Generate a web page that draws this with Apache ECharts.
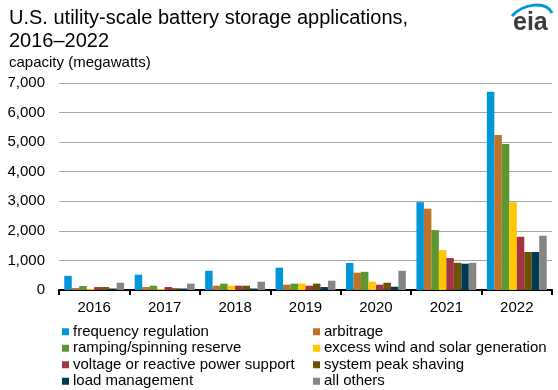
<!DOCTYPE html>
<html>
<head>
<meta charset="utf-8">
<script src="https://cdn.jsdelivr.net/npm/echarts@6/dist/echarts.min.js"></script>
<style>
html,body{margin:0;padding:0;background:#fff;}
#chart{width:558px;height:390px;}
</style>
</head>
<body>
<div id="chart"></div>
<script>
const years = ['2016','2017','2018','2019','2020','2021','2022'];
const seriesNames = ['frequency regulation','arbitrage','ramping/spinning reserve','excess wind and solar generation','voltage or reactive power support','system peak shaving','load management','all others'];
const frequencyRegulation = [480, 520, 650, 755, 915, 2970, 6700];
const arbitrage = [65, 100, 145, 180, 585, 2750, 5245];
const rampingReserve = [135, 145, 215, 215, 615, 2025, 4940];
const excessWindSolar = [40, 40, 145, 215, 280, 1350, 2970];
const voltageSupport = [100, 100, 145, 145, 180, 1080, 1800];
const peakShaving = [100, 60, 145, 215, 245, 920, 1285];
const loadManagement = [50, 50, 50, 100, 110, 890, 1285];
const allOthers = [245, 215, 280, 315, 650, 920, 1835];
const yTicks = [0, 1000, 2000, 3000, 4000, 5000, 6000, 7000];

const values = [frequencyRegulation, arbitrage, rampingReserve, excessWindSolar, voltageSupport, peakShaving, loadManagement, allOthers];
const colors = ['#0096D7','#BD732A','#5D9732','#FFC702','#A33340','#6B5205','#003953','#858585'];
const font = 'Liberation Sans, Arial, sans-serif';

const chart = echarts.init(document.getElementById('chart'));
const legendCommon = {
  orient: 'vertical', icon: 'rect', itemWidth: 7, itemHeight: 7, itemGap: 1,
  selectedMode: false,
  textStyle: {fontFamily: font, fontSize: 15, color: '#000', lineHeight: 15.5, padding: [0,0,0,-1]},
  padding: 0
};
chart.setOption({
  animation: false,
  color: colors,
  textStyle: {fontFamily: font},
  title: [
    {text: 'U.S. utility-scale battery storage applications,\n2016–2022', left: 4, top: 2,
     textStyle: {fontFamily: font, fontSize: 20, fontWeight: 'normal', color: '#000', lineHeight: 23}},
    {text: 'capacity (megawatts)', left: 4, top: 50,
     textStyle: {fontFamily: font, fontSize: 15, fontWeight: 'normal', color: '#000'}}
  ],
  graphic: [
    {type: 'text', left: 513, top: 11, style: {text: 'eia', font: 'bold 25px ' + font, fill: '#3a3a3a'}},
    {type: 'bezierCurve', shape: {x1: 512, y1: 16, cpx1: 524, cpy1: 3, x2: 552, y2: 13, cpx2: 546, cpy2: 1},
     style: {stroke: '#0096D7', lineWidth: 3, fill: null}}
  ],
  legend: [
    Object.assign({left: 62, top: 324, data: [seriesNames[0], seriesNames[2], seriesNames[4], seriesNames[6]]}, legendCommon),
    Object.assign({left: 313, top: 324, data: [seriesNames[1], seriesNames[3], seriesNames[5], seriesNames[7]]}, legendCommon)
  ],
  grid: {left: 59, right: 6, top: 83, bottom: 100},
  xAxis: {
    type: 'category', data: years,
    axisLine: {lineStyle: {color: '#000', width: 2}},
    axisTick: {show: true, length: 5, lineStyle: {color: '#000', width: 2}},
    axisLabel: {fontFamily: font, fontSize: 15, color: '#000', margin: 10}
  },
  yAxis: {
    type: 'value', min: yTicks[0], max: yTicks[yTicks.length-1], interval: 1000,
    axisLine: {show: false}, axisTick: {show: false},
    splitLine: {lineStyle: {color: '#a6a6a6', width: 1}},
    axisLabel: {fontFamily: font, fontSize: 15, color: '#000', margin: 14,
      formatter: v => v.toLocaleString('en-US')}
  },
  series: seriesNames.map((n, i) => ({
    name: n, type: 'bar', data: values[i], barGap: '0%', barCategoryGap: '15%'
  }))
});
</script>
</body>
</html>
